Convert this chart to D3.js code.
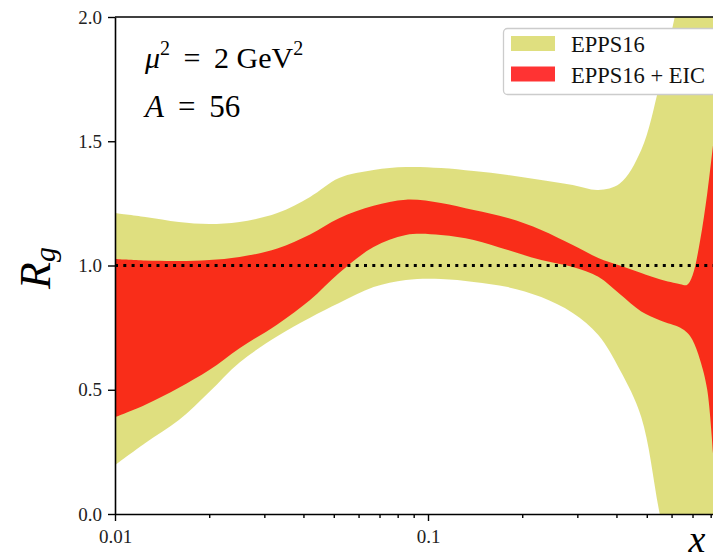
<!DOCTYPE html>
<html>
<head>
<meta charset="utf-8">
<script src="https://cdn.jsdelivr.net/npm/d3@7"></script>
<style>
  body { margin: 0; background: #fff; }
  svg { display: block; font-family: "Liberation Serif", "DejaVu Serif", serif; }
  svg text { font-family: "Liberation Serif", "DejaVu Serif", serif; }
</style>
</head>
<body>
<svg id="chart" width="713" height="560"></svg>
<script>
// x grid (shared by all four band edges)
const xs = [0.01, 0.0125, 0.016, 0.02, 0.025, 0.033, 0.042, 0.052, 0.067, 0.085, 0.11, 0.14,
            0.18, 0.23, 0.29, 0.35, 0.41, 0.48, 0.55, 0.64, 0.672, 0.70, 0.74, 0.78, 0.82];

// EPPS16 band
const eppsUp = [1.211, 1.195, 1.175, 1.167, 1.175, 1.211, 1.276, 1.352, 1.384, 1.396, 1.392, 1.38,
                1.364, 1.344, 1.324, 1.304, 1.33, 1.465, 1.73, 2.1, 2.2, 2.3, 2.4, 2.5, 2.6];
const eppsLo = [0.197, 0.286, 0.378, 0.491, 0.61, 0.715, 0.79, 0.849, 0.913, 0.942, 0.946, 0.934,
                0.913, 0.873, 0.809, 0.72, 0.58, 0.39, 0.0, -0.4, -0.5, -0.6, -0.8, -1.0, -1.2];

// EPPS16 + EIC band
const eicUp = [1.026, 1.02, 1.018, 1.022, 1.034, 1.068, 1.125, 1.19, 1.24, 1.265, 1.252, 1.223,
               1.191, 1.143, 1.082, 1.03, 1.0, 0.97, 0.945, 0.925, 0.922, 0.96, 1.10, 1.29, 1.52];
const eicLo = [0.39, 0.44, 0.508, 0.579, 0.667, 0.763, 0.861, 0.97, 1.074, 1.123, 1.123, 1.103,
               1.062, 1.022, 0.994, 0.955, 0.885, 0.815, 0.78, 0.75, 0.73, 0.70, 0.62, 0.50, 0.18];

const yTicks = [0, 0.5, 1.0, 1.5, 2.0];
const xMajor = [0.01, 0.1];
const xMinor = [0.02, 0.03, 0.04, 0.05, 0.06, 0.07, 0.08, 0.09, 0.2, 0.3, 0.4, 0.5, 0.6, 0.7, 0.8, 0.9];
const legendLabels = ["EPPS16", "EPPS16 + EIC"];

const svg = d3.select("#chart");
const L = 115, T = 17, B = 514, R = 741;
const serif = '"Liberation Serif", "DejaVu Serif", serif';

const x = d3.scaleLog().domain([0.01, 1]).range([L, R]);
const y = d3.scaleLinear().domain([0, 2]).range([B, T]);

svg.append("defs").append("clipPath").attr("id", "clip")
  .append("rect").attr("x", L).attr("y", T).attr("width", R - L).attr("height", B - T);

const plot = svg.append("g").attr("clip-path", "url(#clip)");

function band(lo, up) {
  return d3.area()
    .x((d, i) => x(xs[i]))
    .y0((d, i) => y(lo[i]))
    .y1((d, i) => y(up[i]))
    .curve(d3.curveCatmullRom.alpha(0.5))(xs);
}

plot.append("path").attr("d", band(eppsLo, eppsUp))
  .attr("fill", "#bfbf00").attr("fill-opacity", 0.5);
plot.append("path").attr("d", band(eicLo, eicUp))
  .attr("fill", "#ff0000").attr("fill-opacity", 0.8);

// reference line at 1
plot.append("line")
  .attr("x1", L).attr("x2", R).attr("y1", y(1)).attr("y2", y(1))
  .attr("stroke", "#000").attr("stroke-width", 3).attr("stroke-dasharray", "3,5.3");

// axes
svg.append("g").attr("transform", `translate(${L},0)`)
  .call(d3.axisLeft(y).tickValues(yTicks).tickFormat(d3.format(".1f")).tickSize(7).tickSizeOuter(0).tickPadding(6));

svg.append("g").attr("transform", `translate(0,${B})`)
  .call(d3.axisBottom(x).tickValues(xMajor).tickFormat(d => String(d)).tickSize(7).tickSizeOuter(0).tickPadding(9));

const xMinorAxis = svg.append("g").attr("transform", `translate(0,${B})`)
  .call(d3.axisBottom(x).tickValues(xMinor).tickFormat("").tickSize(4).tickSizeOuter(0));
xMinorAxis.select(".domain").remove();

svg.selectAll(".domain").attr("stroke", "#000").attr("stroke-width", 1.6);
svg.selectAll(".tick line").attr("stroke", "#000").attr("stroke-width", 1.4);
svg.selectAll(".tick text").style("font-family", serif)
  .attr("font-size", 19).attr("fill", "#222");

// top spine
svg.append("line").attr("x1", L).attr("x2", R).attr("y1", T).attr("y2", T)
  .attr("stroke", "#000").attr("stroke-width", 1.6);

// axis labels
svg.append("text")
  .attr("transform", "translate(50,268) rotate(-90)")
  .attr("text-anchor", "middle")
  .attr("font-size", 44)
  .html('<tspan font-style="italic">R</tspan><tspan font-style="italic" font-size="30" dy="5">g</tspan>');

svg.append("text")
  .attr("x", 697).attr("y", 552)
  .attr("text-anchor", "middle")
  .attr("font-size", 38).attr("font-style", "italic")
  .text("x");

// annotations
svg.append("text").attr("x", 145).attr("y", 68).attr("font-size", 30)
  .html('<tspan font-style="italic">μ</tspan><tspan font-size="20" dy="-13">2</tspan><tspan dy="13"> \u2009= \u20092 GeV</tspan><tspan font-size="20" dy="-13">2</tspan>');
svg.append("text").attr("x", 145).attr("y", 117).attr("font-size", 31)
  .html('<tspan font-style="italic">A</tspan> \u2009= \u200956');

// legend
const lg = svg.append("g");
lg.append("rect").attr("x", 503.5).attr("y", 28.5).attr("width", 260).attr("height", 66)
  .attr("rx", 4).attr("fill", "#fff").attr("stroke", "#cccccc").attr("stroke-width", 1.3);
const legendFill = [["#bfbf00", 0.5], ["#ff0000", 0.8]];
legendLabels.forEach((lab, i) => {
  const yy = 36 + i * 30.5;
  lg.append("rect").attr("x", 511).attr("y", yy).attr("width", 44).attr("height", 15)
    .attr("fill", legendFill[i][0]).attr("fill-opacity", legendFill[i][1]);
  lg.append("text").attr("x", 571).attr("y", yy + 16).attr("font-size", 22.5).attr("fill", "#111").text(lab);
});
</script>
</body>
</html>
